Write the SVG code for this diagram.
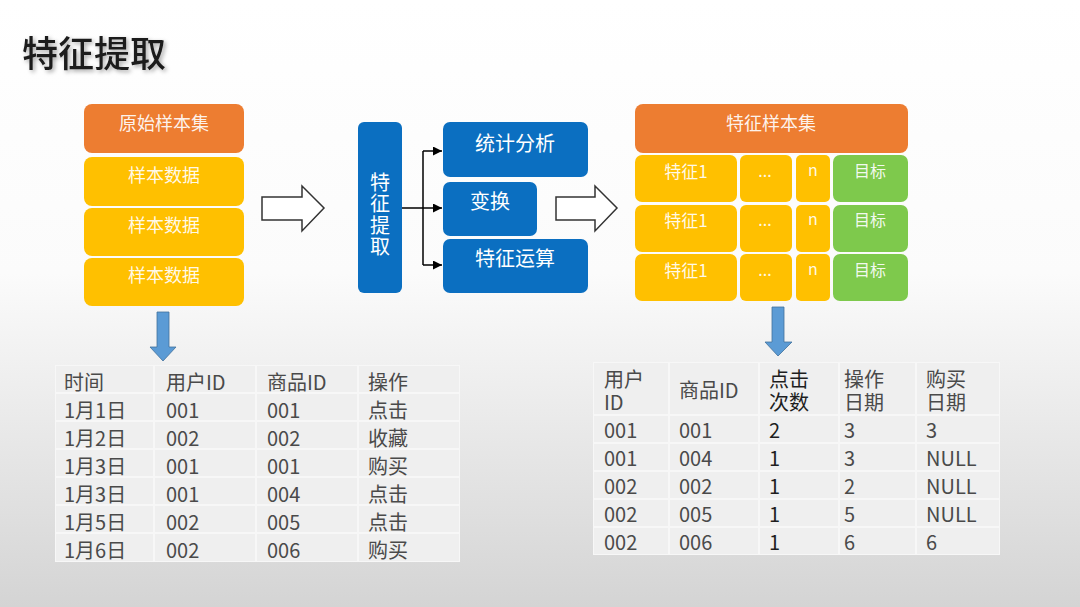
<svg xmlns="http://www.w3.org/2000/svg" width="1080" height="607" viewBox="0 0 1080 607">
<defs>
<linearGradient id="bg" x1="0" y1="0" x2="0" y2="1">
<stop offset="0" stop-color="#ffffff"/>
<stop offset="0.45" stop-color="#fbfbfb"/>
<stop offset="1" stop-color="#d4d4d4"/>
</linearGradient>
<filter id="sh" x="-10%" y="-20%" width="130%" height="160%">
<feDropShadow dx="2" dy="2" stdDeviation="2" flood-color="#000" flood-opacity="0.35"/>
</filter>
<marker id="ah" viewBox="0 0 10 10" refX="10" refY="5" markerWidth="9" markerHeight="9" markerUnits="userSpaceOnUse" orient="auto">
<path d="M0,0 L10,5 L0,10 z" fill="#000"/>
</marker>
<style>
text{font-family:"Noto Sans CJK SC","Microsoft YaHei",sans-serif}
.w{fill:#ffffff;fill-opacity:0.92;font-size:18px;text-anchor:middle;dominant-baseline:central}
.ws{fill:#ffffff;fill-opacity:0.92;font-size:16px;text-anchor:middle;dominant-baseline:central}
.wb{fill:#ffffff;font-size:20px;text-anchor:middle;dominant-baseline:central}
.or{fill:#ed7d31}
.ye{fill:#ffc000}
.bl{fill:#0b6fc1}
.gr{fill:#7ec94c}
.cell{fill:#efefef}
.t{fill:#4a4a4a;font-size:20px;dominant-baseline:central}
.tk{fill:#1e1e1e;font-size:20px;dominant-baseline:central}
.hollow{fill:#ffffff;stroke:#333;stroke-width:1.5}
.down{fill:#5b9bd5;stroke:#41719c;stroke-width:0.8}
.conn{fill:none;stroke:#000;stroke-width:1.5}
</style>
</defs>
<rect x="0" y="0" width="1080" height="607" fill="url(#bg)"/>
<text x="22" y="67" font-size="36" fill="#1a1a1a" filter="url(#sh)" style="font-weight:500">特征提取</text>

<g id="raw-set">
<rect x="84" y="104" width="160" height="49" rx="8" class="or"/>
<text x="164" y="122" class="w">原始样本集</text>
</g>
<g id="sample-1">
<rect x="84" y="157" width="160" height="49" rx="8" class="ye"/>
<text x="164" y="174" class="w">样本数据</text>
</g>
<g id="sample-2">
<rect x="84" y="208" width="160" height="48" rx="8" class="ye"/>
<text x="164" y="224" class="w">样本数据</text>
</g>
<g id="sample-3">
<rect x="84" y="258" width="160" height="48" rx="8" class="ye"/>
<text x="164" y="274" class="w">样本数据</text>
</g>

<g id="hollow-arrow-1">
<path d="M262,197 L302,197 L302,186 L324,208 L302,231 L302,220 L262,220 z" class="hollow"/>
</g>

<g id="feature-extract">
<rect x="358" y="122" width="44" height="171" rx="6" class="bl"/>
<text x="380" y="172" fill="#ffffff" font-size="20" writing-mode="vertical-rl" letter-spacing="1.5" style="writing-mode:vertical-rl">特征提取</text>
</g>
<g id="stat">
<rect x="443" y="122" width="145" height="55" rx="7" class="bl"/>
<text x="515" y="142" class="wb">统计分析</text>
</g>
<g id="transform">
<rect x="443" y="182" width="94" height="54" rx="7" class="bl"/>
<text x="490" y="200" class="wb">变换</text>
</g>
<g id="feature-op">
<rect x="443" y="239" width="145" height="54" rx="7" class="bl"/>
<text x="515" y="257" class="wb">特征运算</text>
</g>

<g id="connectors">
<path d="M402,208 L423,208" class="conn"/>
<path d="M423,151 L423,265" class="conn"/>
<path d="M423,151 L442,151" class="conn" marker-end="url(#ah)"/>
<path d="M423,208 L442,208" class="conn" marker-end="url(#ah)"/>
<path d="M423,265 L442,265" class="conn" marker-end="url(#ah)"/>
</g>

<g id="hollow-arrow-2">
<path d="M556,197 L595,197 L595,186 L617,208 L595,231 L595,220 L556,220 z" class="hollow"/>
</g>

<g id="feature-set">
<rect x="635" y="104" width="273" height="49" rx="8" class="or"/>
<text x="771" y="122" class="w">特征样本集</text>
</g>
<g id="row-1">
<rect x="635" y="155" width="102" height="47" rx="7" class="ye"/>
<rect x="740" y="155" width="52" height="47" rx="6" class="ye"/>
<rect x="796" y="155" width="34" height="47" rx="5" class="ye"/>
<rect x="833" y="155" width="75" height="47" rx="7" class="gr"/>
<text x="686" y="170" class="w" style="font-size:17px">特征1</text>
<text x="765" y="170" class="ws">...</text>
<text x="813" y="169" class="ws">n</text>
<text x="870" y="170" class="ws">目标</text>
</g>
<g id="row-2">
<rect x="635" y="205" width="102" height="47" rx="7" class="ye"/>
<rect x="740" y="205" width="52" height="47" rx="6" class="ye"/>
<rect x="796" y="205" width="34" height="47" rx="5" class="ye"/>
<rect x="833" y="205" width="75" height="47" rx="7" class="gr"/>
<text x="686" y="219" class="w" style="font-size:17px">特征1</text>
<text x="765" y="219" class="ws">...</text>
<text x="813" y="218" class="ws">n</text>
<text x="870" y="219" class="ws">目标</text>
</g>
<g id="row-3">
<rect x="635" y="254" width="102" height="47" rx="7" class="ye"/>
<rect x="740" y="254" width="52" height="47" rx="6" class="ye"/>
<rect x="796" y="254" width="34" height="47" rx="5" class="ye"/>
<rect x="833" y="254" width="75" height="47" rx="7" class="gr"/>
<text x="686" y="269" class="w" style="font-size:17px">特征1</text>
<text x="765" y="269" class="ws">...</text>
<text x="813" y="268" class="ws">n</text>
<text x="870" y="269" class="ws">目标</text>
</g>

<g id="down-arrow-1">
<path d="M157,312 L169,312 L169,347 L176,347 L163,361 L150,347 L157,347 z" class="down"/>
</g>
<g id="down-arrow-2">
<path d="M772,307 L784,307 L784,342 L792,342 L778,356 L765,342 L772,342 z" class="down"/>
</g>

<g id="raw-table">
<rect x="55" y="365" width="405" height="197" fill="#f7f7f7"/>
<g class="cells">
<rect x="56" y="366" width="97" height="26" class="cell"/><rect x="155" y="366" width="100" height="26" class="cell"/><rect x="257" y="366" width="100" height="26" class="cell"/><rect x="359" y="366" width="100" height="26" class="cell"/>
<rect x="56" y="394" width="97" height="26" class="cell"/><rect x="155" y="394" width="100" height="26" class="cell"/><rect x="257" y="394" width="100" height="26" class="cell"/><rect x="359" y="394" width="100" height="26" class="cell"/>
<rect x="56" y="422" width="97" height="26" class="cell"/><rect x="155" y="422" width="100" height="26" class="cell"/><rect x="257" y="422" width="100" height="26" class="cell"/><rect x="359" y="422" width="100" height="26" class="cell"/>
<rect x="56" y="450" width="97" height="26" class="cell"/><rect x="155" y="450" width="100" height="26" class="cell"/><rect x="257" y="450" width="100" height="26" class="cell"/><rect x="359" y="450" width="100" height="26" class="cell"/>
<rect x="56" y="478" width="97" height="26" class="cell"/><rect x="155" y="478" width="100" height="26" class="cell"/><rect x="257" y="478" width="100" height="26" class="cell"/><rect x="359" y="478" width="100" height="26" class="cell"/>
<rect x="56" y="506" width="97" height="26" class="cell"/><rect x="155" y="506" width="100" height="26" class="cell"/><rect x="257" y="506" width="100" height="26" class="cell"/><rect x="359" y="506" width="100" height="26" class="cell"/>
<rect x="56" y="534" width="97" height="27" class="cell"/><rect x="155" y="534" width="100" height="27" class="cell"/><rect x="257" y="534" width="100" height="27" class="cell"/><rect x="359" y="534" width="100" height="27" class="cell"/>
</g>
<text x="64" y="381" class="t">时间</text><text x="166" y="381" class="t">用户ID</text><text x="267" y="381" class="t">商品ID</text><text x="368" y="381" class="t">操作</text>
<text x="64" y="409" class="t">1月1日</text><text x="166" y="409" class="t">001</text><text x="267" y="409" class="t">001</text><text x="368" y="409" class="t">点击</text>
<text x="64" y="437" class="t">1月2日</text><text x="166" y="437" class="t">002</text><text x="267" y="437" class="t">002</text><text x="368" y="437" class="t">收藏</text>
<text x="64" y="465" class="t">1月3日</text><text x="166" y="465" class="t">001</text><text x="267" y="465" class="t">001</text><text x="368" y="465" class="t">购买</text>
<text x="64" y="493" class="t">1月3日</text><text x="166" y="493" class="t">001</text><text x="267" y="493" class="t">004</text><text x="368" y="493" class="t">点击</text>
<text x="64" y="521" class="t">1月5日</text><text x="166" y="521" class="t">002</text><text x="267" y="521" class="t">005</text><text x="368" y="521" class="t">点击</text>
<text x="64" y="549" class="t">1月6日</text><text x="166" y="549" class="t">002</text><text x="267" y="549" class="t">006</text><text x="368" y="549" class="t">购买</text>
</g>

<g id="feature-table">
<rect x="593" y="362" width="407" height="193" fill="#f7f7f7"/>
<g class="cells">
<rect x="594" y="363" width="74" height="51" class="cell"/><rect x="670" y="363" width="88" height="51" class="cell"/><rect x="760" y="363" width="78" height="51" class="cell"/><rect x="840" y="363" width="75" height="51" class="cell"/><rect x="917" y="363" width="82" height="51" class="cell"/>
<rect x="594" y="416" width="74" height="26" class="cell"/><rect x="670" y="416" width="88" height="26" class="cell"/><rect x="760" y="416" width="78" height="26" class="cell"/><rect x="840" y="416" width="75" height="26" class="cell"/><rect x="917" y="416" width="82" height="26" class="cell"/>
<rect x="594" y="444" width="74" height="26" class="cell"/><rect x="670" y="444" width="88" height="26" class="cell"/><rect x="760" y="444" width="78" height="26" class="cell"/><rect x="840" y="444" width="75" height="26" class="cell"/><rect x="917" y="444" width="82" height="26" class="cell"/>
<rect x="594" y="472" width="74" height="26" class="cell"/><rect x="670" y="472" width="88" height="26" class="cell"/><rect x="760" y="472" width="78" height="26" class="cell"/><rect x="840" y="472" width="75" height="26" class="cell"/><rect x="917" y="472" width="82" height="26" class="cell"/>
<rect x="594" y="500" width="74" height="26" class="cell"/><rect x="670" y="500" width="88" height="26" class="cell"/><rect x="760" y="500" width="78" height="26" class="cell"/><rect x="840" y="500" width="75" height="26" class="cell"/><rect x="917" y="500" width="82" height="26" class="cell"/>
<rect x="594" y="528" width="74" height="26" class="cell"/><rect x="670" y="528" width="88" height="26" class="cell"/><rect x="760" y="528" width="78" height="26" class="cell"/><rect x="840" y="528" width="75" height="26" class="cell"/><rect x="917" y="528" width="82" height="26" class="cell"/>
</g>
<text x="604" y="378" class="t">用户<tspan x="604" dy="23">ID</tspan></text>
<text x="679" y="389" class="t">商品ID</text>
<text x="769" y="378" class="tk">点击<tspan x="769" dy="23">次数</tspan></text>
<text x="844" y="378" class="t">操作<tspan x="844" dy="23">日期</tspan></text>
<text x="926" y="378" class="t">购买<tspan x="926" dy="23">日期</tspan></text>
<text x="604" y="429" class="t">001</text><text x="679" y="429" class="t">001</text><text x="769" y="429" class="tk">2</text><text x="844" y="429" class="t">3</text><text x="926" y="429" class="t">3</text>
<text x="604" y="457" class="t">001</text><text x="679" y="457" class="t">004</text><text x="769" y="457" class="tk">1</text><text x="844" y="457" class="t">3</text><text x="926" y="457" class="t">NULL</text>
<text x="604" y="485" class="t">002</text><text x="679" y="485" class="t">002</text><text x="769" y="485" class="tk">1</text><text x="844" y="485" class="t">2</text><text x="926" y="485" class="t">NULL</text>
<text x="604" y="513" class="t">002</text><text x="679" y="513" class="t">005</text><text x="769" y="513" class="tk">1</text><text x="844" y="513" class="t">5</text><text x="926" y="513" class="t">NULL</text>
<text x="604" y="541" class="t">002</text><text x="679" y="541" class="t">006</text><text x="769" y="541" class="tk">1</text><text x="844" y="541" class="t">6</text><text x="926" y="541" class="t">6</text>
</g>
</svg>
